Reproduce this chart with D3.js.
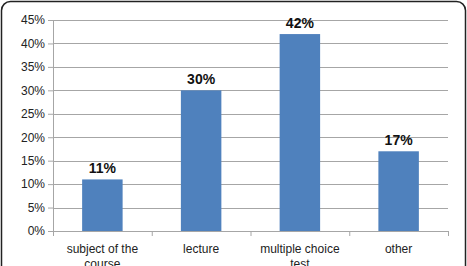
<!DOCTYPE html>
<meta charset="utf-8">
<html>
<head>
<script src="https://d3js.org/d3.v7.min.js"></script>
<style>
  body { margin: 0; background: #fff; }
  svg text { font-family: "Liberation Sans", Arial, Helvetica, sans-serif; }
</style>
</head>
<body>
<div id="chart"></div>
<script>
  // data
  const categories = [["subject of the", "course"], ["lecture"], ["multiple choice", "test"], ["other"]];
  const shares = [11, 30, 42, 17];
  const yTicks = [0, 5, 10, 15, 20, 25, 30, 35, 40, 45];

  const W = 467, H = 266;
  const margin = {top: 20, right: 19, bottom: 35, left: 53};
  const width = W - margin.left - margin.right,
        height = H - margin.top - margin.bottom;

  const root = d3.select("#chart").append("svg")
      .attr("width", W).attr("height", H);

  // rounded frame, bottom runs off the picture
  root.append("rect")
      .attr("x", 1.5).attr("y", 1.5)
      .attr("width", W - 3).attr("height", H + 20)
      .attr("rx", 9)
      .attr("fill", "none").attr("stroke", "#222").attr("stroke-width", 1.5);

  const svg = root.append("g")
      .attr("transform", `translate(${margin.left},${margin.top})`);

  const keys = categories.map((c, i) => i);
  const x = d3.scaleBand().domain(keys).range([0, width]);
  const xBar = d3.scaleBand().domain(keys).range([0, width])
      .paddingInner(0.59).paddingOuter(0.295);
  const y = d3.scaleLinear().domain([0, 45]).range([height, 0]);

  // gridlines
  svg.append("g").selectAll("line")
    .data(yTicks.filter(d => d > 0))
    .join("line")
      .attr("x1", 0).attr("x2", width)
      .attr("y1", d => Math.round(y(d)) + 0.5).attr("y2", d => Math.round(y(d)) + 0.5)
      .attr("stroke", "#a6a6a6");

  // y axis
  const yAxis = svg.append("g")
      .call(d3.axisLeft(y).tickValues(yTicks).tickSize(5).tickFormat(d => d + "%"));
  yAxis.select(".domain").attr("stroke", "#a6a6a6");
  yAxis.selectAll(".tick line").attr("stroke", "#a6a6a6");
  yAxis.selectAll("text").attr("font-size", 12).attr("fill", "#222")
      .attr("font-family", "Liberation Sans, Arial, sans-serif").attr("x", -8);

  // bars
  svg.selectAll("rect.bar")
    .data(shares)
    .join("rect")
      .attr("class", "bar")
      .attr("x", (d, i) => xBar(i))
      .attr("y", d => y(d))
      .attr("width", xBar.bandwidth())
      .attr("height", d => height - y(d))
      .attr("fill", "#4f81bd");

  // x axis
  const xAxis = svg.append("g")
      .attr("transform", `translate(0,${height})`)
      .call(d3.axisBottom(x).tickSize(0).tickFormat(""));
  xAxis.select(".domain").attr("stroke", "#a6a6a6");
  xAxis.append("g").selectAll("line")
    .data(d3.range(keys.length + 1))
    .join("line")
      .attr("x1", d => d * x.step() + 0.5).attr("x2", d => d * x.step() + 0.5)
      .attr("y1", 0).attr("y2", 5)
      .attr("stroke", "#a6a6a6");

  // category labels
  const lab = svg.append("g").selectAll("text")
    .data(categories)
    .join("text")
      .attr("x", (d, i) => x(i) + x.bandwidth() / 2)
      .attr("y", height + 22)
      .attr("text-anchor", "middle")
      .attr("font-size", 12)
      .attr("fill", "#222");
  lab.selectAll("tspan")
    .data(d => d)
    .join("tspan")
      .attr("x", function() { return this.parentNode.getAttribute("x"); })
      .attr("dy", (d, i) => i === 0 ? 0 : 14.5)
      .text(d => d);

  // value labels
  svg.selectAll("text.val")
    .data(shares)
    .join("text")
      .attr("class", "val")
      .attr("x", (d, i) => xBar(i) + xBar.bandwidth() / 2)
      .attr("y", d => y(d) - 6)
      .attr("text-anchor", "middle")
      .attr("font-size", 14)
      .attr("font-weight", "bold")
      .attr("fill", "#111")
      .text(d => d + "%");
</script>
</body>
</html>
